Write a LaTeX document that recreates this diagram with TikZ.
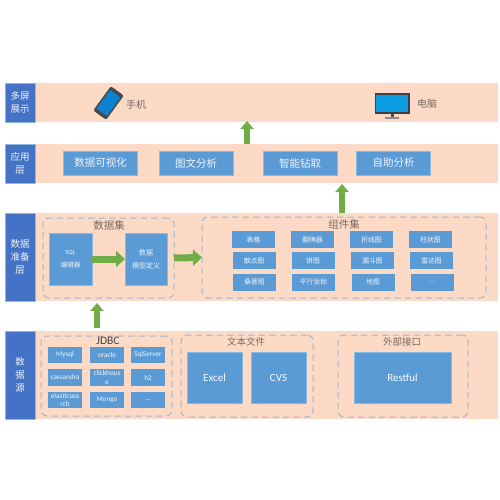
\documentclass[tikz,border=0pt]{standalone}
\usepackage{fontspec}
\setmainfont{Carlito}
\newfontfamily\cjk{Noto Sans CJK SC}
\usetikzlibrary{arrows.meta,positioning}
\definecolor{bandfill}{HTML}{FDDAC6}
\definecolor{layerblue}{HTML}{4472C4}
\definecolor{boxblue}{HTML}{5B9BD5}
\definecolor{dashblue}{HTML}{A3B6CC}
\definecolor{flowgreen}{HTML}{70AD47}
\definecolor{titlebrown}{HTML}{7B6A60}
\definecolor{phoneblue}{HTML}{0F7FD0}
\definecolor{pcblue}{HTML}{0A9BE0}
\tikzset{
  band/.style={fill=bandfill, inner sep=0pt, outer sep=0pt, minimum width=462pt},
  layerbox/.style={draw=boxblue!70, fill=layerblue, line width=0.4pt, align=center, inner sep=0pt, outer sep=0pt, minimum width=30pt, text=white!92!layerblue, font=\cjk\fontsize{9.5}{13}\selectfont},
  appbox/.style={draw=boxblue!70!white, fill=boxblue, line width=0.4pt, align=center, inner sep=0pt, outer sep=0pt, minimum width=74pt, minimum height=24pt, text=white!90!boxblue, font=\cjk\fontsize{10.5}{13}\selectfont},
  chartbox/.style={fill=boxblue, align=center, inner sep=0pt, outer sep=0pt, minimum width=43pt, minimum height=17pt, text=white!90!boxblue, font=\cjk\fontsize{6.8}{8}\selectfont},
  jdbcbox/.style={fill=boxblue, align=center, inner sep=0pt, outer sep=0pt, minimum width=34pt, minimum height=16.5pt, text=white!90!boxblue, font=\fontsize{7.2}{8.5}\selectfont},
  bigbox/.style={draw=boxblue!70!white, fill=boxblue, line width=0.4pt, align=center, inner sep=0pt, outer sep=0pt, minimum height=51pt, text=white!95!boxblue, font=\fontsize{11}{13}\selectfont},
  groupbox/.style={draw=dashblue, line width=1pt, dash pattern=on 6.5pt off 4pt, rounded corners=6pt, inner sep=0pt, outer sep=0pt},
  grouptitle/.style={inner sep=0pt, text=titlebrown, font=\cjk\fontsize{10.5}{12}\selectfont},
  smalltitle/.style={inner sep=0pt, text=titlebrown, font=\cjk\fontsize{9.5}{12}\selectfont},
  devicetext/.style={inner sep=0pt, text=titlebrown, font=\cjk\fontsize{10}{12}\selectfont},
  uparrow/.style={-{Triangle[length=8pt,width=13pt]}, draw=flowgreen, line width=6.5pt},
  sidearrow/.style={-{Triangle[length=9pt,width=16pt]}, draw=flowgreen, line width=7pt},
  devicepart/.style={inner sep=0pt, outer sep=0pt}
}
\begin{document}
\begin{tikzpicture}[x=1pt,y=-1pt]
\useasboundingbox (0,0) rectangle (500,500);
% layers
\node[band, minimum height=39pt] (viewband) at (267,102.5) {};
\node[band, minimum height=39pt] (appband) at (267,163.5) {};
\node[band, minimum height=88pt] (prepband) at (267,257) {};
\node[band, minimum height=88pt] (srcband) at (267,375) {};
\node[layerbox, minimum height=39pt] (viewlabel) at (20,102.5) {多屏\\展示};
\node[layerbox, minimum height=39pt] (applabel) at (20,163.5) {应用\\层};
\node[layerbox, minimum height=88pt] (preplabel) at (20,257) {数据\\准备\\层};
\node[layerbox, minimum height=88pt] (srclabel) at (20,375) {数\\据\\源};
% devices
\node[devicepart, rotate=-36, fill=black!72, rounded corners=2pt, minimum width=16pt, minimum height=30pt] (phone) at (108.5,103) {};
\node[devicepart, rotate=-36, fill=phoneblue, minimum width=13pt, minimum height=23pt] (phonescreen) at (108.5,103) {};
\node[devicetext, anchor=west] (phonetext) at (126,105) {手机};
\node[devicepart, fill=black!70, minimum width=3pt, minimum height=6pt] (pcneck) at (392,115) {};
\node[devicepart, fill=black!45, minimum width=14pt, minimum height=2.5pt] (pcfoot) at (392,118) {};
\node[devicepart, fill=black!75, minimum width=35pt, minimum height=21pt] (pcframe) at (392,104) {};
\node[devicepart, fill=pcblue, minimum width=32pt, minimum height=17.5pt] (pcscreen) at (392,103.5) {};
\node[devicetext, anchor=west] (pctext) at (417,104) {电脑};
% application
\node[appbox] (vis) at (100.5,163) {数据可视化};
\node[appbox] (graph) at (196,163) {图文分析};
\node[appbox] (drill) at (300,163) {智能钻取};
\node[appbox] (self) at (393.5,163) {自助分析};
% data set
\node[groupbox, minimum width=131pt, minimum height=80pt] (dataset) at (108.5,258) {};
\node[grouptitle] (datasettitle) at (109,226) {数据集};
\node[appbox, minimum width=43pt, minimum height=52pt, font=\cjk\fontsize{6.5}{13}\selectfont] (sql) at (70.5,259) {\fontspec{Carlito}SQL\\编辑器};
\node[appbox, minimum width=42pt, minimum height=52pt, font=\cjk\fontsize{7}{13}\selectfont] (model) at (146,259) {数据\\模型定义};
% components
\node[groupbox, minimum width=284pt, minimum height=81pt] (comp) at (344,257.5) {};
\node[grouptitle] (comptitle) at (344,224) {组件集};
\node[chartbox] (table) at (253.5,239.5) {表格};
\node[chartbox] (flip) at (312.5,239.5) {翻牌器};
\node[chartbox] (line) at (371.5,239.5) {折线图};
\node[chartbox] (bar) at (430.5,239.5) {柱状图};
\node[chartbox] (scatter) at (254,260.5) {散点图};
\node[chartbox] (pie) at (313,260.5) {饼图};
\node[chartbox] (funnel) at (372.5,260.5) {漏斗图};
\node[chartbox] (radar) at (431.5,260.5) {雷达图};
\node[chartbox] (sankey) at (254.5,282) {桑葚图};
\node[chartbox] (parallel) at (313.5,282) {平行坐标};
\node[chartbox] (geo) at (373,282) {地图};
\node[chartbox] (more) at (432,282) {...};
% data sources
\node[groupbox, minimum width=131pt, minimum height=80pt] (jdbc) at (106.5,376) {};
\node[inner sep=0pt, text=black!75, font=\fontsize{11.5}{12}\selectfont] (jdbctitle) at (108,341) {JDBC};
\node[jdbcbox] (mysql) at (65,355) {Mysql};
\node[jdbcbox] (oracle) at (107,355) {oracle};
\node[jdbcbox] (sqlserver) at (148,355) {SqlServer};
\node[jdbcbox] (cassandra) at (65,377.5) {cassandra};
\node[jdbcbox] (clickhouse) at (107,377.5) {clickhous\\e};
\node[jdbcbox] (htwo) at (148,377.5) {h2};
\node[jdbcbox] (elastic) at (65,400) {elasticsea\\rch};
\node[jdbcbox] (mongo) at (107,400) {Mongo};
\node[jdbcbox] (etc) at (148,400) {...};
\node[groupbox, minimum width=132pt, minimum height=82pt] (textfile) at (247,376) {};
\node[smalltitle] (texttitle) at (246,342) {文本文件};
\node[bigbox, minimum width=55pt] (excel) at (214.5,377.5) {Excel};
\node[bigbox, minimum width=55pt] (cvs) at (278.5,377.5) {CVS};
\node[groupbox, minimum width=130pt, minimum height=82pt] (api) at (403,376) {};
\node[smalltitle] (apititle) at (402,342) {外部接口};
\node[bigbox, minimum width=97pt] (restful) at (402.5,377.5) {Restful};
% flow
\coordinate (viewin) at (247,121);
\coordinate (viewout) at (247,143.5);
\coordinate (appin) at (342,184);
\coordinate (appout) at (342,212.5);
\coordinate (prepin) at (97,303);
\coordinate (prepout) at (97,328);
\draw[uparrow] (viewout) -- (viewin);
\draw[uparrow] (appout) -- (appin);
\draw[uparrow] (prepout) -- (prepin);
\draw[sidearrow] (sql) -- (model);
\draw[sidearrow] (dataset.east) -- (comp.west);
\end{tikzpicture}
\end{document}
